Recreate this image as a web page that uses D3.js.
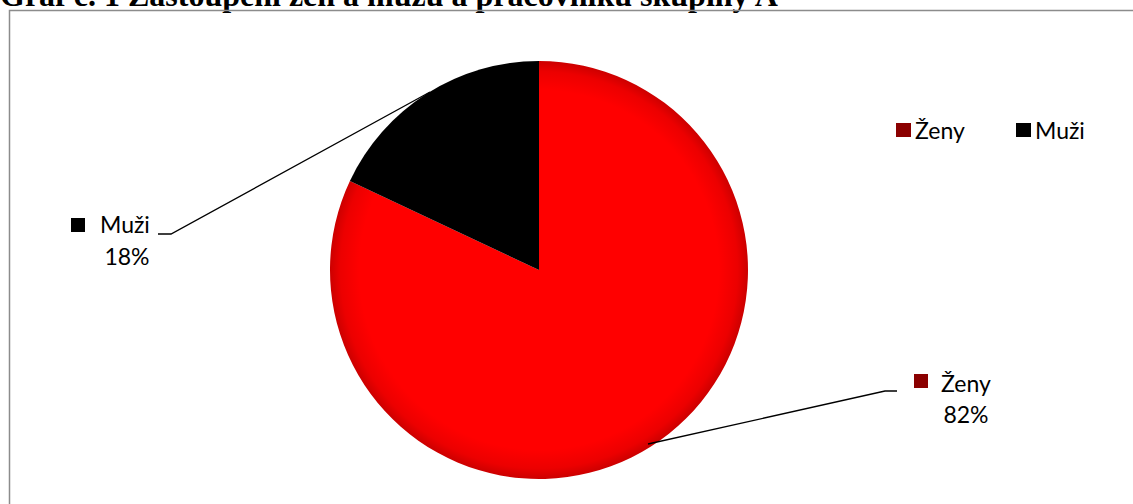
<!DOCTYPE html>
<html>
<head>
<meta charset="utf-8">
<script src="https://cdn.jsdelivr.net/npm/d3@7"></script>
<style>
  html, body { margin: 0; padding: 0; background: #fff; }
  svg { display: block; }
</style>
</head>
<body>
<svg id="chart" width="1133" height="504"></svg>
<script>
// Share of women and men among staff of group A
const categories = ["Ženy", "Muži"];
const shares = [82, 18];
const sliceColors = ["#ff0000", "#000000"];
const legendColors = ["#8b0000", "#000000"];
const titleText = "Graf č. 1 Zastoupení žen a mužů a pracovníků skupiny A";

const svg = d3.select("#chart");
const W = 1133, H = 504;
const font = "Lato, 'Open Sans', sans-serif";
const fs = 23;

// Title (Times-like bold), running off the top edge of the page
svg.append("text")
  .attr("x", 0).attr("y", 6)
  .attr("font-family", "'Liberation Serif', 'Times New Roman', serif")
  .attr("font-weight", "bold")
  .attr("font-size", 32)
  .attr("fill", "#000")
  .text(titleText);

// Chart frame
svg.append("rect")
  .attr("x", 9.5).attr("y", 10.5)
  .attr("width", W + 10).attr("height", H + 10)
  .attr("fill", "none")
  .attr("stroke", "#8c8c8c")
  .attr("stroke-width", 1.5);

const cx = 539, cy = 270, R = 209;

// Soft darkening towards the rim of the pie
const defs = svg.append("defs");
const redGrad = defs.append("radialGradient")
  .attr("id", "redShade")
  .attr("gradientUnits", "userSpaceOnUse")
  .attr("cx", 0).attr("cy", 0).attr("r", R);
redGrad.append("stop").attr("offset", "0%").attr("stop-color", "#ff0000");
redGrad.append("stop").attr("offset", "86%").attr("stop-color", "#ff0000");
redGrad.append("stop").attr("offset", "95%").attr("stop-color", "#ec0000");
redGrad.append("stop").attr("offset", "100%").attr("stop-color", "#cc0000");

const pie = d3.pie().sort(null).value(d => d.value);
const data = categories.map((c, i) => ({ name: c, value: shares[i], i }));
const arcs = pie(data);
const arc = d3.arc().innerRadius(0).outerRadius(R);

const g = svg.append("g").attr("transform", `translate(${cx},${cy})`);
g.selectAll("path.slice")
  .data(arcs)
  .enter().append("path")
  .attr("class", "slice")
  .attr("d", arc)
  .attr("fill", d => d.data.i === 0 ? "url(#redShade)" : sliceColors[d.data.i]);

// Data labels with leader lines
const total = d3.sum(shares);
const labelPos = [
  { box: [914, 374], text: [941, 392], pct: [966, 423], line: [[648, 444], [885, 391], [897, 391]] },
  { box: [71, 218], text: [100, 233], pct: [127, 265], line: [[430, 92], [171, 234], [158, 234]] }
];
arcs.forEach(a => {
  const p = labelPos[a.data.i];
  svg.append("path")
    .attr("d", d3.line()(p.line))
    .attr("fill", "none")
    .attr("stroke", "#000")
    .attr("stroke-width", 1.3);
  svg.append("rect")
    .attr("x", p.box[0]).attr("y", p.box[1])
    .attr("width", 14).attr("height", 14)
    .attr("fill", legendColors[a.data.i]);
  svg.append("text")
    .attr("x", p.text[0]).attr("y", p.text[1])
    .attr("font-family", font).attr("font-size", fs)
    .attr("fill", "#000")
    .text(a.data.name);
  svg.append("text")
    .attr("x", p.pct[0]).attr("y", p.pct[1])
    .attr("text-anchor", "middle")
    .attr("font-family", font).attr("font-size", fs)
    .attr("fill", "#000")
    .text(d3.format(".0%")(a.data.value / total));
});

// Legend
const legendX = [896, 1016];
const legend = svg.append("g");
categories.forEach((c, i) => {
  legend.append("rect")
    .attr("x", legendX[i]).attr("y", 123)
    .attr("width", 15).attr("height", 14)
    .attr("fill", legendColors[i]);
  legend.append("text")
    .attr("x", legendX[i] + 19).attr("y", 139)
    .attr("font-family", font).attr("font-size", fs)
    .attr("fill", "#000")
    .text(c);
});
</script>
</body>
</html>
